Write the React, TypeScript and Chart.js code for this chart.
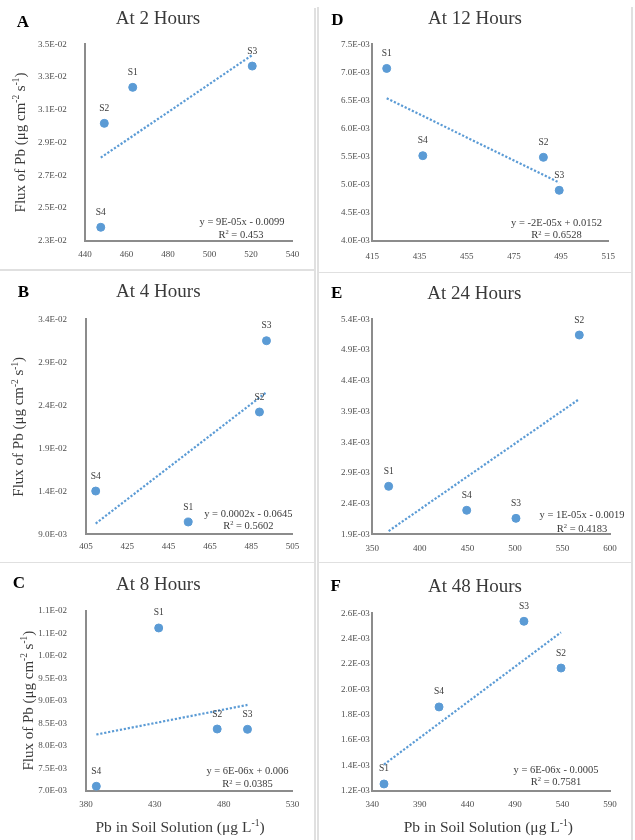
import React, { useEffect, useRef } from 'react';
import { Chart, registerables } from 'chart.js';

Chart.register(...registerables);

// ---------- data ----------
const SAMPLES = ['S1', 'S2', 'S3', 'S4'];

const PB_2H = [463.0, 449.3, 520.6, 447.6];
const FLUX_2H = [0.03237, 0.03017, 0.03367, 0.02382];
const PB_4H = [454.5, 489.0, 492.4, 409.7];
const FLUX_4H = [0.01043, 0.02322, 0.03151, 0.01403];
const PB_8H = [432.8, 475.3, 497.3, 387.5];
const FLUX_8H = [0.010616, 0.008371, 0.008364, 0.007098];
const PB_12H = [421.1, 487.5, 494.2, 436.4];
const FLUX_12H = [0.00707, 0.005486, 0.004898, 0.005515];
const PB_24H = [367.2, 567.7, 501.1, 449.3];
const FLUX_24H = [0.002681, 0.005144, 0.00216, 0.002291];
const PB_48H = [352.3, 538.5, 499.5, 410.2];
const FLUX_48H = [0.001253, 0.002168, 0.002537, 0.001861];

const LETTERS = ['A', 'B', 'C', 'D', 'E', 'F'];
const TITLES = ['At 2 Hours', 'At 4 Hours', 'At 8 Hours', 'At 12 Hours', 'At 24 Hours', 'At 48 Hours'];
const EQUATIONS = [
  'y = 9E-05x - 0.0099',
  'y = 0.0002x - 0.0645',
  'y = 6E-06x + 0.006',
  'y = -2E-05x + 0.0152',
  'y = 1E-05x - 0.0019',
  'y = 6E-06x - 0.0005',
];
const R_SQUARED = ['0.453', '0.5602', '0.0385', '0.6528', '0.4183', '0.7581'];

const X_MIN = [440, 405, 380, 415, 350, 340];
const X_MAX = [540, 505, 530, 515, 600, 590];
const X_STEP = [20, 20, 50, 20, 50, 50];
const Y_MIN = [0.023, 0.009, 0.007, 0.004, 0.0019, 0.0012];
const Y_MAX = [0.035, 0.034, 0.011, 0.0075, 0.0054, 0.0026];
const Y_STEP = [0.002, 0.005, 0.0005, 0.0005, 0.0005, 0.0002];

const PB_SERIES = [PB_2H, PB_4H, PB_8H, PB_12H, PB_24H, PB_48H];
const FLUX_SERIES = [FLUX_2H, FLUX_4H, FLUX_8H, FLUX_12H, FLUX_24H, FLUX_48H];

const Y_TITLE = [
  { t: 'Flux of Pb (\u03bcg cm' },
  { t: '-2', sup: true },
  { t: ' s' },
  { t: '-1', sup: true },
  { t: ')' },
];
const X_TITLE = [
  { t: 'Pb in Soil Solution (\u03bcg L' },
  { t: '-1', sup: true },
  { t: ')' },
];

// ---------- layout (page coordinates) ----------
type Lay = {
  box: number[];
  area: number[];
  letter: number[];
  title: number[];
  eq: number[];
  yTitle: number[] | null;
  xTitle: number[] | null;
  yPad: number;
  xPad: number;
};
const LAYOUT: Lay[] = [
  { box: [0, 0, 315, 270], area: [85, 44.3, 292.5, 240.7], letter: [23, 23], title: [158, 19.5], eq: [242, 222.7, 241, 234.3], yTitle: [20, 142.5], xTitle: null, yPad: 18.3, xPad: 9 },
  { box: [0, 270, 315, 292], area: [86, 319.3, 292.5, 534.3], letter: [23.3, 292.3], title: [158.3, 292.3], eq: [248.3, 514.3, 248.3, 525.7], yTitle: [18.5, 426.8], xTitle: null, yPad: 19, xPad: 7 },
  { box: [0, 562, 315, 278], area: [86, 610.7, 292.5, 790.7], letter: [19, 584], title: [158.3, 585], eq: [247.5, 771.7, 247.5, 784], yTitle: [28, 700.7], xTitle: [180, 826.7], yPad: 19, xPad: 9 },
  { box: [317, 0, 318, 271], area: [372.3, 44.3, 608.3, 240.7], letter: [337.3, 20.7], title: [475, 19], eq: [556.5, 223.3, 556.5, 235], yTitle: null, xTitle: null, yPad: 2.5, xPad: 10.5 },
  { box: [317, 271, 318, 291], area: [372.3, 319.3, 610, 534.3], letter: [336.7, 294], title: [474.3, 294], eq: [582, 515.7, 582, 528.3], yTitle: null, xTitle: null, yPad: 2.5, xPad: 9.3 },
  { box: [317, 562, 318, 278], area: [372.3, 613.3, 610, 790.7], letter: [335.7, 586.7], title: [475, 586.7], eq: [556, 770, 556, 781.7], yTitle: null, xTitle: [488.3, 826.7], yPad: 2.5, xPad: 9 },
];

const FONT = "'Liberation Serif', 'Times New Roman', serif";
const BLUE = '#5B9BD5';
const AXIS = '#8c8c8c';
const TICK = '#4d4d4d';
const TEXT = '#3a3a3a';

function fmtExp(v: number) {
  const s = (v * (1 + 1e-9)).toExponential(1);
  const [m, e] = s.split('e');
  const n = parseInt(e, 10);
  const sign = n < 0 ? '-' : '+';
  const abs = Math.abs(n);
  return `${m}E${sign}${abs < 10 ? '0' + abs : abs}`;
}

function linearFit(xs: number[], ys: number[]) {
  const n = xs.length;
  const mx = xs.reduce((a, b) => a + b, 0) / n;
  const my = ys.reduce((a, b) => a + b, 0) / n;
  let sxy = 0;
  let sxx = 0;
  for (let i = 0; i < n; i++) {
    sxy += (xs[i] - mx) * (ys[i] - my);
    sxx += (xs[i] - mx) * (xs[i] - mx);
  }
  const b = sxy / sxx;
  return { a: my - b * mx, b };
}

type Seg = { t: string; sup?: boolean };
function drawRuns(ctx: CanvasRenderingContext2D, segs: Seg[], cx: number, cy: number, size: number, color: string) {
  const supSize = size * 0.62;
  const widths: number[] = [];
  let total = 0;
  segs.forEach((s) => {
    ctx.font = `${s.sup ? supSize : size}px ${FONT}`;
    const w = ctx.measureText(s.t).width;
    widths.push(w);
    total += w;
  });
  let x = cx - total / 2;
  const base = cy + size * 0.32;
  ctx.fillStyle = color;
  ctx.textAlign = 'left';
  ctx.textBaseline = 'alphabetic';
  segs.forEach((s, i) => {
    ctx.font = `${s.sup ? supSize : size}px ${FONT}`;
    ctx.fillText(s.t, x, s.sup ? base - size * 0.36 : base);
    x += widths[i];
  });
}

function Panel({ idx }: { idx: number }) {
  const ref = useRef<HTMLCanvasElement | null>(null);
  const L = LAYOUT[idx];
  const [bx, by, bw, bh] = L.box;

  useEffect(() => {
    if (!ref.current) return;
    const xs = PB_SERIES[idx];
    const ys = FLUX_SERIES[idx];
    const pts = xs.map((x, i) => ({ x, y: ys[i] }));
    const fit = linearFit(xs, ys);
    const lo = Math.min(...xs);
    const hi = Math.max(...xs);
    const trend = [
      { x: lo, y: fit.a + fit.b * lo },
      { x: hi, y: fit.a + fit.b * hi },
    ];
    const [al, at, ar, ab] = L.area;

    const textPlugin = {
      id: 'panelText',
      afterDraw(chart: any) {
        const ctx: CanvasRenderingContext2D = chart.ctx;
        ctx.save();
        // letter
        ctx.fillStyle = '#000';
        ctx.font = `bold 17px ${FONT}`;
        ctx.textAlign = 'center';
        ctx.textBaseline = 'middle';
        ctx.fillText(LETTERS[idx], L.letter[0] - bx, L.letter[1] - by);
        // title
        ctx.fillStyle = TEXT;
        ctx.font = `19px ${FONT}`;
        ctx.fillText(TITLES[idx], L.title[0] - bx, L.title[1] - by);
        // point labels
        const meta = chart.getDatasetMeta(1);
        ctx.font = `9.5px ${FONT}`;
        ctx.fillStyle = TEXT;
        meta.data.forEach((el: any, i: number) => {
          ctx.textAlign = 'center';
          ctx.textBaseline = 'middle';
          ctx.fillText(SAMPLES[i], el.x, el.y - 15);
        });
        // equation
        ctx.font = `10.5px ${FONT}`;
        ctx.textAlign = 'center';
        ctx.textBaseline = 'middle';
        ctx.fillStyle = TEXT;
        ctx.fillText(EQUATIONS[idx], L.eq[0] - bx, L.eq[1] - by);
        drawRuns(ctx, [{ t: 'R' }, { t: '2', sup: true }, { t: ' = ' + R_SQUARED[idx] }], L.eq[2] - bx, L.eq[3] - by, 10.5, TEXT);
        // axis titles
        if (L.yTitle) {
          ctx.save();
          ctx.translate(L.yTitle[0] - bx, L.yTitle[1] - by);
          ctx.rotate(-Math.PI / 2);
          drawRuns(ctx, Y_TITLE, 0, 0, 15, TEXT);
          ctx.restore();
        }
        if (L.xTitle) {
          drawRuns(ctx, X_TITLE, L.xTitle[0] - bx, L.xTitle[1] - by, 15.5, TEXT);
        }
        ctx.restore();
      },
    };

    const chart = new Chart(ref.current, {
      type: 'scatter',
      data: {
        datasets: [
          {
            data: trend,
            showLine: true,
            borderColor: BLUE,
            borderWidth: 2.2,
            borderDash: [2.2, 1.8],
            pointRadius: 0,
            fill: false,
          } as any,
          {
            data: pts,
            backgroundColor: BLUE,
            borderColor: BLUE,
            borderWidth: 1,
            pointRadius: 4,
          },
        ],
      },
      options: {
        responsive: false,
        animation: false,
        devicePixelRatio: 1,
        layout: { padding: { left: 0, top: at - by, right: bx + bw - ar, bottom: 0 } },
        plugins: {
          legend: { display: false },
          tooltip: { enabled: false },
          title: { display: false },
        },
        scales: {
          x: {
            type: 'linear',
            position: 'bottom',
            min: X_MIN[idx],
            max: X_MAX[idx],
            grid: { display: false, drawTicks: false },
            border: { display: true, color: AXIS, width: 2 },
            ticks: {
              stepSize: X_STEP[idx],
              autoSkip: false,
              maxRotation: 0,
              minRotation: 0,
              padding: L.xPad,
              color: TICK,
              font: { family: FONT, size: 9 },
              callback: (v: any) => String(Math.round(Number(v))),
            },
            afterFit: (s: any) => {
              s.height = by + bh - ab;
              s.paddingLeft = 0;
              s.paddingRight = 0;
            },
          },
          y: {
            type: 'linear',
            position: 'left',
            min: Y_MIN[idx],
            max: Y_MAX[idx],
            grid: { display: false, drawTicks: false },
            border: { display: true, color: AXIS, width: 2 },
            ticks: {
              stepSize: Y_STEP[idx],
              autoSkip: false,
              padding: L.yPad,
              color: TICK,
              font: { family: FONT, size: 9 },
              callback: (v: any) => fmtExp(Number(v)),
            },
            afterFit: (s: any) => {
              s.width = al - bx;
              s.paddingTop = 0;
              s.paddingBottom = 0;
            },
          },
        },
      } as any,
      plugins: [textPlugin],
    });
    return () => chart.destroy();
  }, [idx]);

  return (
    <canvas
      ref={ref}
      width={bw}
      height={bh}
      style={{ position: 'absolute', left: bx, top: by, width: bw, height: bh, display: 'block' }}
    />
  );
}

const LINE = '#e0e0e0';

export default function App() {
  return (
    <div style={{ position: 'absolute', left: 0, top: 0, width: 635, height: 840, background: '#ffffff', overflow: 'hidden' }}>
      {LAYOUT.map((_, i) => (
        <Panel key={i} idx={i} />
      ))}
      {/* panel borders */}
      <div style={{ position: 'absolute', left: 314, top: 8, width: 1.5, height: 832, background: LINE }} />
      <div style={{ position: 'absolute', left: 317, top: 7, width: 1.5, height: 833, background: LINE }} />
      <div style={{ position: 'absolute', left: 631, top: 7, width: 1.5, height: 833, background: LINE }} />
      <div style={{ position: 'absolute', left: 0, top: 269, width: 315.5, height: 1.5, background: LINE }} />
      <div style={{ position: 'absolute', left: 317, top: 271.5, width: 316, height: 1.5, background: LINE }} />
      <div style={{ position: 'absolute', left: 0, top: 561.5, width: 315.5, height: 1.5, background: LINE }} />
      <div style={{ position: 'absolute', left: 317, top: 561.5, width: 316, height: 1.5, background: LINE }} />
    </div>
  );
}
